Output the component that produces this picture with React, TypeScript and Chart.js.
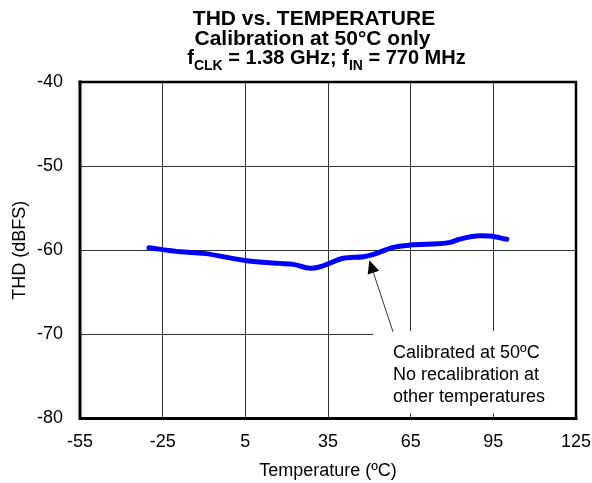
import React, { useEffect, useRef } from 'react';
import { Chart, registerables } from 'chart.js';

Chart.register(...registerables);

// ---- data ----
const temperatures = [-30, -18.6, -10.1, 5.6, 17.7, 22.5, 28.5, 32.2, 40.6, 47.9, 51.5, 58.7, 64.8, 79.3, 82.9, 90.2, 93.8, 99.9];
const thdValues = [-59.7, -60.18, -60.37, -61.25, -61.56, -61.68, -62.15, -61.96, -60.96, -60.77, -60.49, -59.66, -59.38, -59.06, -58.67, -58.28, -58.31, -58.7];

const xMin = -55;
const xMax = 125;
const xStep = 30;
const yMin = -80;
const yMax = -40;
const yStep = 10;

const titleLine1 = 'THD vs. TEMPERATURE';
const titleLine2 = 'Calibration at 50°C only';
const titleLine3 = [
  { t: 'f', sub: false },
  { t: 'CLK', sub: true },
  { t: ' = 1.38 GHz; f', sub: false },
  { t: 'IN', sub: true },
  { t: ' = 770 MHz', sub: false },
];
const xAxisTitle = 'Temperature (ºC)';
const yAxisTitle = 'THD (dBFS)';

const annotationLines = ['Calibrated at 50ºC', 'No recalibration at', 'other temperatures'];
const arrowTip = { x: 50, y: -61.2 };
const arrowTail = { x: 58.6, y: -69.7 };
const annotationBox = { x0: 51.4, y0: -69.6, y1: -79.4 };
const annotationTextX = 58.6;
const annotationBaselines = [-72.85, -75.43, -78.01];

const FONT = '"Liberation Sans", Arial, Helvetica, sans-serif';

const decorPlugin = {
  id: 'decor',
  beforeDatasetsDraw(chart: any) {
    const { ctx, chartArea, scales } = chart;
    const x = scales.x, y = scales.y;
    ctx.save();
    ctx.fillStyle = '#ffffff';
    const bx0 = x.getPixelForValue(annotationBox.x0);
    const by0 = y.getPixelForValue(annotationBox.y0);
    const by1 = y.getPixelForValue(annotationBox.y1);
    ctx.fillRect(bx0, by0, chartArea.right - bx0, by1 - by0);
    ctx.restore();
  },
  afterDatasetsDraw(chart: any) {
    const { ctx, scales } = chart;
    const x = scales.x, y = scales.y;
    ctx.save();
    // arrow
    const tx = x.getPixelForValue(arrowTip.x), ty = y.getPixelForValue(arrowTip.y);
    const sx = x.getPixelForValue(arrowTail.x), sy = y.getPixelForValue(arrowTail.y);
    const ang = Math.atan2(ty - sy, tx - sx);
    const headLen = 13, headHalf = 6;
    const bxp = tx - headLen * Math.cos(ang), byp = ty - headLen * Math.sin(ang);
    ctx.strokeStyle = '#333';
    ctx.lineWidth = 1;
    ctx.beginPath();
    ctx.moveTo(sx, sy);
    ctx.lineTo(bxp, byp);
    ctx.stroke();
    ctx.fillStyle = '#000';
    ctx.beginPath();
    ctx.moveTo(tx, ty);
    ctx.lineTo(bxp + headHalf * Math.sin(ang), byp - headHalf * Math.cos(ang));
    ctx.lineTo(bxp - headHalf * Math.sin(ang), byp + headHalf * Math.cos(ang));
    ctx.closePath();
    ctx.fill();
    // annotation text
    ctx.font = `18px ${FONT}`;
    ctx.textAlign = 'left';
    ctx.textBaseline = 'alphabetic';
    ctx.fillStyle = '#000';
    const ax = x.getPixelForValue(annotationTextX);
    annotationLines.forEach((line, i) => {
      ctx.fillText(line, ax, y.getPixelForValue(annotationBaselines[i]));
    });
    ctx.restore();
  },
  afterDraw(chart: any) {
    const { ctx, chartArea } = chart;
    const { left, right, top, bottom } = chartArea;
    ctx.save();
    ctx.strokeStyle = '#000';
    ctx.lineCap = 'square';
    ctx.lineWidth = 2.5;
    ctx.beginPath();
    ctx.moveTo(left, top);
    ctx.lineTo(right, top);
    ctx.lineTo(right, bottom);
    ctx.stroke();
    ctx.lineWidth = 3;
    ctx.beginPath();
    ctx.moveTo(left, top);
    ctx.lineTo(left, bottom);
    ctx.lineTo(right, bottom);
    ctx.stroke();

    // title
    ctx.fillStyle = '#000';
    ctx.textBaseline = 'alphabetic';
    ctx.textAlign = 'center';
    ctx.font = `bold 21px ${FONT}`;
    ctx.fillText(titleLine1, 314, 25);
    ctx.fillText(titleLine2, 312.5, 45);
    // line 3 with subscripts
    const mainFont = `bold 20px ${FONT}`;
    const subFont = `bold 14px ${FONT}`;
    let total = 0;
    titleLine3.forEach((p) => {
      ctx.font = p.sub ? subFont : mainFont;
      total += ctx.measureText(p.t).width;
    });
    let cx = 326.5 - total / 2;
    ctx.textAlign = 'left';
    titleLine3.forEach((p) => {
      ctx.font = p.sub ? subFont : mainFont;
      ctx.fillText(p.t, cx, p.sub ? 70 : 63.5);
      cx += ctx.measureText(p.t).width;
    });
    ctx.restore();
  },
};

export default function App() {
  const ref = useRef<HTMLCanvasElement | null>(null);
  useEffect(() => {
    if (!ref.current) return;
    const chart = new Chart(ref.current, {
      type: 'line',
      data: {
        datasets: [
          {
            data: temperatures.map((t, i) => ({ x: t, y: thdValues[i] })),
            borderColor: '#0000ff',
            borderWidth: 5,
            pointRadius: 0,
            tension: 0.4,
            cubicInterpolationMode: 'monotone',
            borderCapStyle: 'round',
            borderJoinStyle: 'round',
            fill: false,
          },
        ],
      },
      options: {
        animation: false,
        responsive: true,
        maintainAspectRatio: false,
        layout: { padding: { top: 82, right: 16, bottom: 0, left: 0 } },
        plugins: {
          legend: { display: false },
          title: { display: false },
          tooltip: { enabled: false },
        },
        scales: {
          x: {
            type: 'linear',
            min: xMin,
            max: xMax,
            afterFit: (s: any) => { s.height = 64.5; s.paddingLeft = 0; s.paddingRight = 0; },
            ticks: {
              stepSize: xStep,
              color: '#000',
              padding: 13,
              font: { family: FONT, size: 18 },
              maxRotation: 0,
            },
            grid: { color: '#333', lineWidth: 1, drawTicks: false },
            border: { display: false },
            title: {
              display: true,
              text: xAxisTitle,
              color: '#000',
              font: { family: FONT, size: 18 },
              padding: { top: 0, bottom: 1 },
            },
          },
          y: {
            type: 'linear',
            min: yMin,
            max: yMax,
            afterFit: (s: any) => { s.width = 80; s.paddingTop = 0; s.paddingBottom = 0; },
            ticks: {
              stepSize: yStep,
              color: '#000',
              padding: 17,
              font: { family: FONT, size: 18 },
            },
            grid: { color: '#333', lineWidth: 1, drawTicks: false },
            border: { display: false },
            title: {
              display: true,
              text: yAxisTitle,
              color: '#000',
              font: { family: FONT, size: 18 },
              padding: { top: 9, bottom: 0 },
            },
          },
        },
      },
      plugins: [decorPlugin],
    } as any);
    return () => chart.destroy();
  }, []);
  return (
    <div style={{ position: 'fixed', left: 0, top: 0, width: 592, height: 483, background: '#fff' }}>
      <canvas ref={ref} />
    </div>
  );
}
